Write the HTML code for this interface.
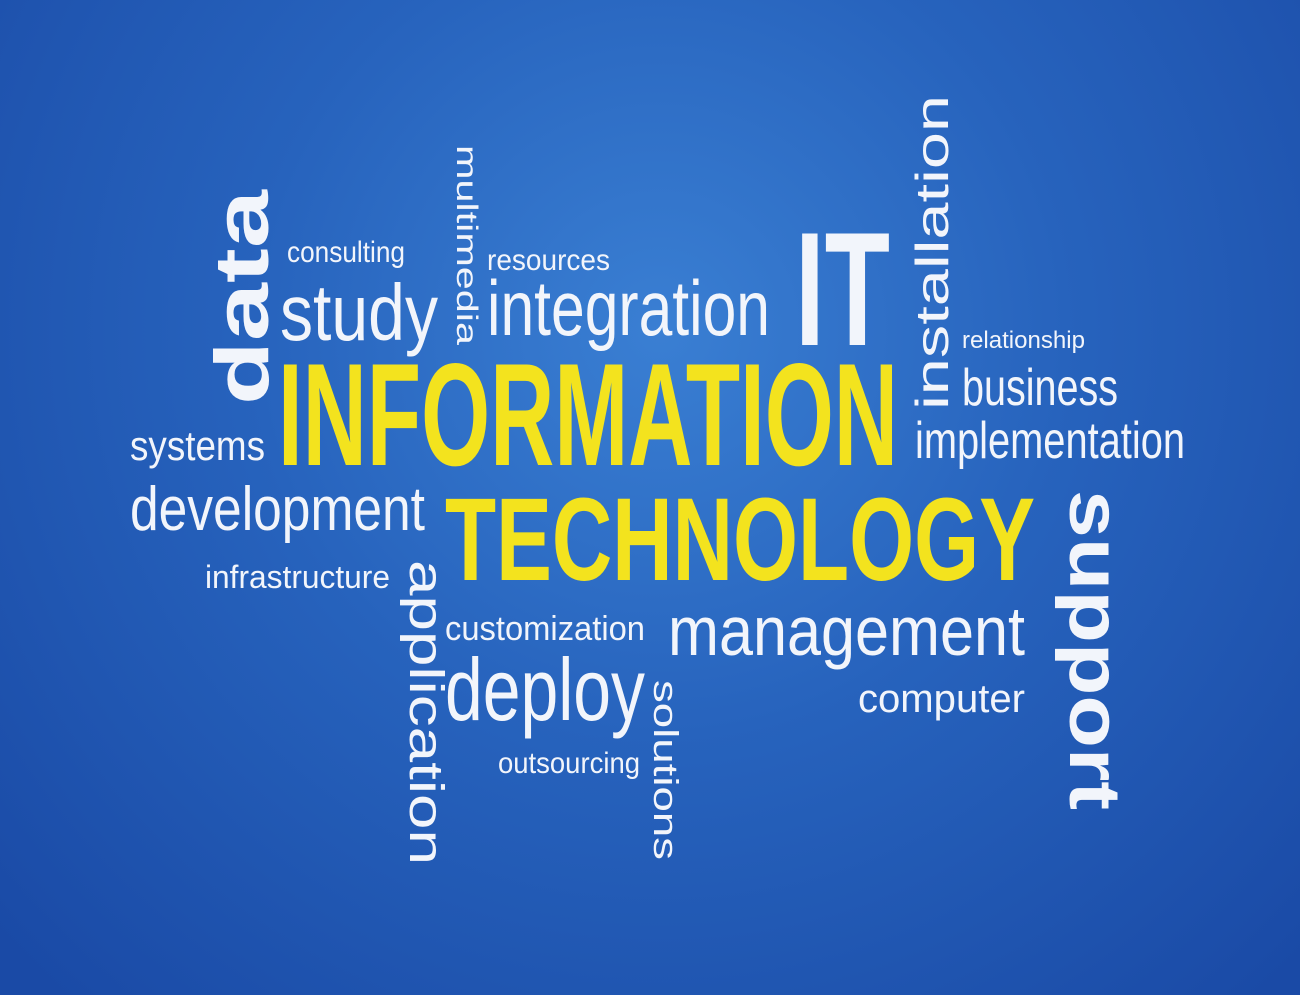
<!DOCTYPE html>
<html>
<head>
<meta charset="utf-8">
<style>
html,body{margin:0;padding:0;}
body{width:1300px;height:995px;overflow:hidden;}
svg{display:block;}
text{font-family:"Liberation Sans",sans-serif;}
.w{fill:#f2f5fb;}
.y{fill:#f3e31e;font-weight:bold;}
.b{font-weight:bold;}
</style>
</head>
<body>
<svg width="1300" height="995" viewBox="0 0 1300 995">
<defs>
<radialGradient id="bg" cx="660" cy="330" r="900" gradientUnits="userSpaceOnUse">
<stop offset="0" stop-color="#3a7fd3"/>
<stop offset="0.45" stop-color="#2763bd"/>
<stop offset="1" stop-color="#1a4aa6"/>
</radialGradient>
</defs>
<rect width="1300" height="995" fill="url(#bg)"/>

<text class="w b" font-size="76" textLength="215" lengthAdjust="spacingAndGlyphs" transform="translate(268,405) rotate(-90)">data</text>
<text class="w" x="287" y="262" font-size="30" textLength="118" lengthAdjust="spacingAndGlyphs">consulting</text>
<text class="w" x="280" y="340" font-size="80" textLength="158" lengthAdjust="spacingAndGlyphs">study</text>
<text class="w" font-size="30" textLength="200" lengthAdjust="spacingAndGlyphs" transform="translate(457,145) rotate(90)">multimedia</text>
<text class="w" x="487" y="270" font-size="30" textLength="123" lengthAdjust="spacingAndGlyphs">resources</text>
<text class="w" x="487" y="335" font-size="78" textLength="283" lengthAdjust="spacingAndGlyphs">integration</text>
<text class="w b" x="795" y="345" font-size="162" textLength="95" lengthAdjust="spacingAndGlyphs">IT</text>
<text class="w" font-size="46" textLength="315" lengthAdjust="spacingAndGlyphs" transform="translate(948,410) rotate(-90)">installation</text>
<text class="w" x="962" y="348" font-size="24" textLength="123" lengthAdjust="spacingAndGlyphs">relationship</text>
<text class="w" x="962" y="405" font-size="52" textLength="156" lengthAdjust="spacingAndGlyphs">business</text>
<text class="y" x="278" y="465" font-size="146" textLength="620" lengthAdjust="spacingAndGlyphs">INFORMATION</text>
<text class="w" x="130" y="460" font-size="42" textLength="135" lengthAdjust="spacingAndGlyphs">systems</text>
<text class="w" x="915" y="458" font-size="52" textLength="270" lengthAdjust="spacingAndGlyphs">implementation</text>
<text class="w" x="130" y="530" font-size="62" textLength="295" lengthAdjust="spacingAndGlyphs">development</text>
<text class="y" x="445" y="580" font-size="118" textLength="590" lengthAdjust="spacingAndGlyphs">TECHNOLOGY</text>
<text class="w b" font-size="72" textLength="320" lengthAdjust="spacingAndGlyphs" transform="translate(1070,490) rotate(90)">support</text>
<text class="w" x="205" y="588" font-size="32" textLength="185" lengthAdjust="spacingAndGlyphs">infrastructure</text>
<text class="w" font-size="48" textLength="305" lengthAdjust="spacingAndGlyphs" transform="translate(410,560) rotate(90)">application</text>
<text class="w" x="445" y="640" font-size="34" textLength="200" lengthAdjust="spacingAndGlyphs">customization</text>
<text class="w" x="668" y="655" font-size="70" textLength="357" lengthAdjust="spacingAndGlyphs">management</text>
<text class="w" x="445" y="720" font-size="88" textLength="200" lengthAdjust="spacingAndGlyphs">deploy</text>
<text class="w" font-size="34" textLength="180" lengthAdjust="spacingAndGlyphs" transform="translate(654,680) rotate(90)">solutions</text>
<text class="w" x="858" y="712" font-size="40" textLength="167" lengthAdjust="spacingAndGlyphs">computer</text>
<text class="w" x="498" y="773" font-size="30" textLength="142" lengthAdjust="spacingAndGlyphs">outsourcing</text>
</svg>
</body>
</html>
